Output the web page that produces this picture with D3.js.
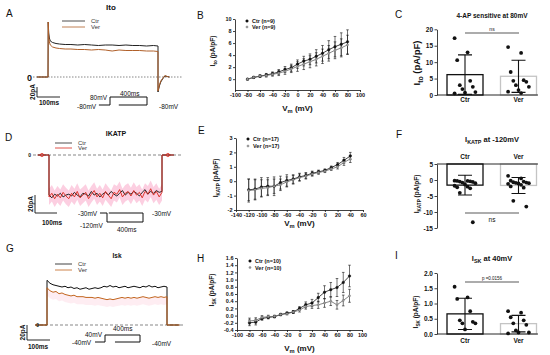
<!DOCTYPE html>
<html><head><meta charset="utf-8">
<script src="https://cdn.jsdelivr.net/npm/d3@7"></script>
<style>body{margin:0;background:#fff} text{font-family:"Liberation Sans",Arial,sans-serif}</style>
</head><body><div id="fig"></div>
<script>
// ---------- data ----------
// A: Ito current traces (ms, pA)
var tA = [0,1,3,6,10,20,35,50,75,100,130,160,190,220,250,280,310,340,370,400,430,460,480];
var itoCtr = [0,110,88,78,72,69,67,66,65,65,64,65,64,63,64,64,63,64,63,63,62,63,62];
var itoVer = [0,110,82,70,64,60,58,57,56,56,55,55,54,55,54,52,54,53,53,53,52,52,51];
var tTail = [480,482,486,492,500,510,520,530];
var tailCtr = [-30,-26,-18,-10,-4,2,1,0];
var tailVer = [-28,-24,-16,-8,-3,3,1,0];
// D: IKATP traces, one sample every 12 ms during the step (pA)
var katpCtr = [-44,-47,-43,-45,-42,-46,-44,-43,-45,-41,-44,-46,-42,-43,-45,-40,-44,-42,-46,-43,-41,-44,-40,-43,-45,-42,-39,-44,-41,-43,-40,-42,-45,-41,-38,-43,-40,-42,-39,-41,-40];
var katpVer = [-46,-42,-48,-43,-47,-41,-45,-48,-42,-46,-40,-47,-44,-41,-48,-43,-39,-46,-42,-47,-40,-44,-48,-41,-43,-38,-46,-42,-40,-45,-39,-44,-41,-47,-40,-43,-37,-44,-40,-46,-41];
// G: ISK traces, one sample every 12 ms (pA)
var skCtr = [60,56,54,53,52,51,52,50,51,49,50,48,49,50,48,49,50,49,50,52,51,53,51,52,50,51,52,50,51,52,51,50,52,51,53,51,52,50,51,52,51];
var skVer = [50,46,44,45,42,43,41,40,39,40,38,38,38,37,37,37,36,37,36,35,34,35,34,35,36,37,36,37,36,37,36,37,38,37,36,37,38,37,38,37,38];
// voltage protocols [holding, step] (mV)
var protoA = [-80, 80];
var protoD = [-30, -120];
var protoG = [-40, 40];

// B: Ito I-V
var vmB = [-80,-70,-60,-50,-40,-30,-20,-10,0,10,20,30,40,50,60,70,80];
var ivBCtr = [0,0.3,0.5,0.7,0.9,1.2,1.6,1.9,2.5,3.0,3.3,3.8,4.3,4.9,5.4,5.8,6.2];
var ivBCtrErr = [0.1,0.15,0.2,0.25,0.3,0.4,0.5,0.6,0.7,0.8,0.9,1.1,1.3,1.5,1.7,1.9,2.0];
var ivBVer = [0,0.3,0.5,0.6,0.8,1.0,1.3,1.7,2.1,2.5,2.9,3.3,3.8,4.3,4.8,5.2,5.7];
var ivBVerErr = [0.1,0.15,0.2,0.25,0.3,0.4,0.5,0.6,0.8,0.9,1.0,1.1,1.2,1.3,1.4,1.5,1.6];
// E: IKATP I-V
var vmE = [-120,-110,-100,-90,-80,-70,-60,-50,-40,-30,-20,-10,0,10,20,30,40];
var ivECtr = [-0.6,-0.55,-0.4,-0.35,-0.35,-0.1,0.05,0.15,0.3,0.4,0.55,0.65,0.75,0.95,1.15,1.45,1.75];
var ivECtrErr = [0.75,0.7,0.65,0.6,0.65,0.45,0.4,0.3,0.25,0.2,0.15,0.12,0.1,0.1,0.15,0.2,0.25];
var ivEVer = [-0.65,-0.6,-0.5,-0.45,-0.35,-0.25,-0.05,0.1,0.25,0.35,0.5,0.6,0.7,0.85,1.0,1.3,1.55];
var ivEVerErr = [0.8,0.7,0.6,0.55,0.5,0.4,0.35,0.3,0.25,0.2,0.15,0.12,0.1,0.1,0.15,0.2,0.25];
// H: ISK I-V
var vmH = [-80,-70,-60,-50,-40,-30,-20,-10,0,10,20,30,40,50,60,70,80];
var ivHCtr = [-0.2,-0.18,-0.08,-0.05,-0.03,0.03,0.07,0.1,0.2,0.3,0.35,0.5,0.65,0.72,0.78,0.92,1.1];
var ivHCtrErr = [0.08,0.08,0.05,0.04,0.03,0.03,0.03,0.04,0.05,0.08,0.1,0.12,0.18,0.2,0.25,0.28,0.3];
var ivHVer = [-0.15,-0.13,-0.05,-0.03,-0.02,0.03,0.05,0.1,0.15,0.25,0.28,0.3,0.35,0.4,0.3,0.42,0.55];
var ivHVerErr = [0.08,0.07,0.05,0.04,0.03,0.03,0.03,0.04,0.05,0.07,0.08,0.1,0.12,0.12,0.12,0.15,0.18];

// bar panels
var groups = ["Ctr", "Ver"];
var cMean = [6.2, 5.7], cSD = [6.0, 4.9];
var cCtrPts = [17.3,13.0,10.6,4.3,3.0,2.5,1.8,0.9,0.7,0.5];
var cVerPts = [14.6,12.8,7.0,4.5,4.3,4.0,3.0,2.5,1.5,1.0,0.6];
var fMean = [-1.6, -1.7], fSD = [3.1, 2.5];
var fCtrPts = [-0.2,-0.3,-0.3,-0.4,-0.5,-0.6,-0.8,-1.0,-1.4,-1.8,-2.1,-2.3,-2.6,-4.0,-13.2];
var fVerPts = [1.3,0.5,-0.2,-0.5,-0.7,-0.8,-0.9,-1.0,-1.1,-1.2,-1.5,-2.0,-2.4,-6.5,-8.3];
var iMean = [0.66, 0.34], iSD = [0.51, 0.27];
var iCtrPts = [1.55,1.2,1.15,0.75,0.45,0.4,0.35,0.35,0.15];
var iVerPts = [0.75,0.7,0.55,0.45,0.35,0.3,0.12,0.05,0.05,0.02];

// ---------- drawing ----------
var svg = d3.select("#fig").append("svg").attr("width", 550).attr("height", 355);
svg.append("rect").attr("width", 550).attr("height", 355).attr("fill", "#fff");
var INK = "#111", VER = "#b0602a";

function txt(x, y, s, size, opt) {
  opt = opt || {};
  return svg.append("text").attr("x", x).attr("y", y).attr("font-size", size)
    .attr("font-weight", opt.bold ? "bold" : "normal")
    .attr("text-anchor", opt.anchor || "start").attr("fill", opt.fill || INK).text(s);
}
// text with subscripts, parts = [[str, isSub], ...]
function rich(x, y, parts, size, rot) {
  var t = svg.append("text").attr("font-size", size).attr("font-weight", "bold")
    .attr("text-anchor", "middle").attr("fill", INK)
    .attr("transform", "translate(" + x + "," + y + ")" + (rot ? " rotate(-90)" : ""));
  var shift = 0;
  parts.forEach(function(p) {
    var d = p[1] ? size * 0.3 : 0;
    t.append("tspan").attr("dy", d - shift).attr("font-size", p[1] ? size * 0.72 : size).text(p[0]);
    shift = d;
  });
}
function styleAxis(g, size) {
  g.attr("font-family", null).attr("font-size", null);
  g.selectAll("text").attr("font-size", size).attr("font-weight", "bold").attr("fill", INK);
  g.select(".domain").attr("stroke", INK).attr("stroke-width", 0.8);
  g.selectAll(".tick line").attr("stroke", INK).attr("stroke-width", 0.8);
}

// panel letters
[["A",6,17],["B",197,19],["C",395,18],["D",5,141],["E",198,134],["F",396,138],["G",6,252],["H",197,262],["I",395,259]]
  .forEach(function(l) { txt(l[1], l[2], l[0], 10); });

// ----- current traces -----
function traces(o) {
  var x = d3.scaleLinear().domain([0, 480]).range(o.xr);
  var y = d3.scaleLinear().domain([0, o.ref]).range(o.yr);
  var line = d3.line().x(function(d) { return x(d[0]); }).y(function(d) { return y(d[1]); });
  svg.append("line").attr("x1", o.dash[0]).attr("x2", o.dash[1]).attr("y1", y(0)).attr("y2", y(0))
    .attr("stroke", "#555").attr("stroke-width", 0.7).attr("stroke-dasharray", o.dashArr);
  if (o.band) {
    svg.append("path").datum(o.band.pts)
      .attr("d", d3.area().x(function(d) { return x(d[0]); })
        .y0(function(d) { return y(d[1] - o.band.w); }).y1(function(d) { return y(d[1] + o.band.w2); }))
      .attr("fill", o.band.fill).attr("opacity", o.band.op);
  }
  o.series.forEach(function(s) {
    svg.append("path").datum(s.pts).attr("d", line).attr("fill", "none")
      .attr("stroke", s.color).attr("stroke-width", s.w || 1).attr("stroke-linejoin", "round");
  });
  // legend
  o.series.forEach(function(s, i) {
    var ly = o.leg[1] + i * o.leg[2];
    svg.append("line").attr("x1", o.leg[0]).attr("x2", o.leg[0] + o.leg[3]).attr("y1", ly).attr("y2", ly)
      .attr("stroke", s.color).attr("stroke-width", 0.8);
    txt(o.leg[0] + o.leg[3] + 6, ly + 2, s.name, o.leg[4], {fill: "#333"});
  });
  // scale bar
  var sb = o.bar;
  svg.append("path").attr("d", "M" + sb[0] + "," + sb[1] + "V" + sb[2] + "H" + sb[3])
    .attr("fill", "none").attr("stroke", INK).attr("stroke-width", 0.9);
  svg.append("text").attr("transform", "translate(" + (sb[0] - 2) + "," + ((sb[1] + sb[2]) / 2) + ") rotate(-90)")
    .attr("text-anchor", "middle").attr("font-size", 6.5).attr("font-weight", "bold").attr("fill", INK).text("20pA");
  txt(sb[4], sb[5], "100ms", 6.5, {bold: true});
  return {x: x, y: y};
}
function build(times, vals) { return times.map(function(t, i) { return [t, vals[i]]; }); }
function sampled(vals) { return vals.map(function(v, i) { return [i * 12, v]; }); }

// A
var aCtr = [[-48, 0]].concat(build(tA, itoCtr), build(tTail, tailCtr));
var aVer = [[-48, 0]].concat(build(tA, itoVer), build(tTail, tailVer));
traces({xr: [48, 158], ref: 110, yr: [77, 22], dash: [33, 183], dashArr: "1.5,1.5",
  series: [{name: "Ctr", color: "#222", pts: aCtr}, {name: "Ver", color: VER, pts: aVer}],
  leg: [62, 21, 6, 23, 6], bar: [37, 87, 97, 60, 39, 105]});
txt(111, 9.5, "Ito", 8, {bold: true, anchor: "middle"});
txt(32, 80.5, "0", 9, {bold: true, anchor: "end"});

// D
var dCtr = [[-48, 0], [0, 0]].concat(sampled(katpCtr), [[480, 0], [530, 0]]);
var dVer = [[-48, 0], [0, 0]].concat(sampled(katpVer), [[480, 0], [530, 0]]);
var dT = traces({xr: [49, 162], ref: -45, yr: [155, 196], dash: [33, 183], dashArr: "3,2",
  band: {pts: sampled(katpVer), w: 9, w2: 9, fill: "#f9a8c9", op: 0.55},
  series: [{name: "Ctr", color: "#222", pts: dCtr}, {name: "Ver", color: "#d8261c", pts: dVer, w: 0.9}],
  leg: [55, 143, 5, 17, 6], bar: [35, 195, 213, 57, 42, 224.5]});
[-30, 505].forEach(function(t) {
  svg.append("circle").attr("cx", dT.x(t)).attr("cy", dT.y(0)).attr("r", 1.6)
    .attr("fill", "none").attr("stroke", "#d8261c").attr("stroke-width", 0.8);
});
txt(116, 136, "IKATP", 7, {bold: true, anchor: "middle"});
txt(31, 157, "0", 5, {bold: true, anchor: "end"});

// G
var gCtr = [[-48, 0], [0, 0]].concat(sampled(skCtr), [[480, 0], [530, 0]]);
var gVer = [[-48, 0], [0, 0]].concat(sampled(skVer), [[480, 0], [530, 0]]);
traces({xr: [47, 167], ref: 51, yr: [325, 287], dash: [40, 183], dashArr: "3,2",
  band: {pts: sampled(skVer), w: 10, w2: 0, fill: "#fde6ec", op: 0.7},
  series: [{name: "Ctr", color: "#111", pts: gCtr}, {name: "Ver", color: "#c2651e", pts: gVer}],
  leg: [55, 264, 6, 17, 6], bar: [27, 325, 340, 50, 28, 349]});
txt(117, 258, "Isk", 6.5, {bold: true, anchor: "middle"});
txt(39, 327, "0", 5, {bold: true, anchor: "end"});

// ----- voltage protocols -----
function protocol(v, xs, ys) {
  var x = d3.scaleLinear().domain([0, 400]).range([xs[0], xs[1]]);
  var y = d3.scaleLinear().domain(v).range(ys);
  var pts = [[xs[2], v[0]], [0, v[0]], [0, v[1]], [400, v[1]], [400, v[0]], [xs[3], v[0]]];
  svg.append("path").datum(pts)
    .attr("d", d3.line().x(function(d) { return x(d[0]); }).y(function(d) { return y(d[1]); }))
    .attr("fill", "none").attr("stroke", INK).attr("stroke-width", 1);
}
protocol(protoA, [110, 147, -120, 95], [105, 97]);
txt(77, 109, "-80mV", 6.5); txt(90, 99.5, "80mV", 6.5); txt(120, 96, "400ms", 6.5); txt(159, 109, "-80mV", 6.5);
protocol(protoD, [107, 143, -78, 20], [213, 222]);
txt(78, 216, "-30mV", 6.5); txt(80, 228, "-120mV", 6.5); txt(117, 232, "400ms", 6.5); txt(152, 216, "-30mV", 6.5);
protocol(protoG, [105, 140, -114, 114], [342, 335]);
txt(72, 345, "-40mV", 6.5); txt(85, 336.5, "40mV", 6.5); txt(113, 331, "400ms", 6.5); txt(152, 346, "-40mV", 6.5);

// ----- I-V plots -----
function ivPlot(o) {
  var x = d3.scaleLinear().domain(o.xd).range(o.xr);
  var y = d3.scaleLinear().domain(o.yd).range(o.yr);
  var gx = svg.append("g").attr("transform", "translate(0," + o.yr[0] + ")")
    .call(d3.axisBottom(x).tickValues(o.xt).tickSize(2).tickSizeOuter(0).tickPadding(1.5).tickFormat(String));
  styleAxis(gx, 5.5);
  var gy = svg.append("g").attr("transform", "translate(" + o.xr[0] + ",0)")
    .call(d3.axisLeft(y).tickValues(o.yt).tickSize(2).tickSizeOuter(0).tickPadding(1.5).tickFormat(o.yf));
  styleAxis(gy, 5.5);
  o.series.forEach(function(s) {
    var g = svg.append("g");
    g.append("path").datum(s.v).attr("fill", "none").attr("stroke", s.line).attr("stroke-width", 0.8)
      .attr("d", d3.line().x(function(d, i) { return x(o.vm[i]); }).y(function(d) { return y(d); }));
    s.v.forEach(function(d, i) {
      var cx = x(o.vm[i]), lo = y(d - s.e[i]), hi = y(d + s.e[i]);
      g.append("path").attr("d", "M" + cx + "," + lo + "V" + hi + "M" + (cx - 1.3) + "," + lo + "h2.6M" + (cx - 1.3) + "," + hi + "h2.6")
        .attr("stroke", INK).attr("stroke-width", 0.6);
    });
    g.selectAll("circle").data(s.v).enter().append("circle")
      .attr("cx", function(d, i) { return x(o.vm[i]); }).attr("cy", function(d) { return y(d); })
      .attr("r", s.r).attr("fill", s.fill).attr("stroke", s.stroke).attr("stroke-width", 0.4);
  });
  o.series.forEach(function(s, i) {
    var ly = o.leg[1] + i * o.leg[2];
    svg.append("circle").attr("cx", o.leg[0]).attr("cy", ly).attr("r", s.r)
      .attr("fill", s.fill).attr("stroke", s.stroke).attr("stroke-width", 0.4);
    txt(o.leg[0] + 5, ly + 2, s.name, 5.5, {bold: true});
  });
  rich((o.xr[0] + o.xr[1]) / 2, o.xlab, [["V", 0], ["m", 1], [" (mV)", 0]], 8, false);
  rich(o.ylab[0], o.ylab[1], o.ylabParts, 6.5, true);
}
var ctrStyle = {fill: INK, stroke: INK, line: INK, r: 1.3};
var verStyle = {fill: "#9a9a9a", stroke: "#777", line: "#666", r: 1.1};
function ser(st, name, v, e) { return Object.assign({}, st, {name: name, v: v, e: e}); }

ivPlot({xd: [-100, 100], xr: [235, 360], yd: [-1.8, 10], yr: [90, 19],
  xt: [-100,-80,-60,-40,-20,0,20,40,60,80,100], yt: [0,2,4,6,8,10], yf: String, vm: vmB,
  series: [ser(ctrStyle, "Ctr (n=9)", ivBCtr, ivBCtrErr), ser(verStyle, "Ver (n=9)", ivBVer, ivBVerErr)],
  leg: [247, 21, 6], xlab: 111, ylab: [215, 51], ylabParts: [["I", 0], ["to", 1], [" (pA/pF)", 0]]});
ivPlot({xd: [-140, 60], xr: [236, 363], yd: [-2, 3], yr: [210, 138],
  xt: [-140,-120,-100,-80,-60,-40,-20,0,20,40,60], yt: [-2,-1,0,1,2,3], yf: String, vm: vmE,
  series: [ser(ctrStyle, "Ctr (n=17)", ivECtr, ivECtrErr), ser(verStyle, "Ver (n=17)", ivEVer, ivEVerErr)],
  leg: [248, 139, 7], xlab: 226, ylab: [218, 178], ylabParts: [["I", 0], ["KATP", 1], [" (pA/pF)", 0]]});
ivPlot({xd: [-100, 100], xr: [237, 362], yd: [-0.4, 1.6], yr: [330, 258],
  xt: [-100,-80,-60,-40,-20,0,20,40,60,80,100], yt: [-0.4,-0.2,0,0.2,0.4,0.6,0.8,1.0,1.2,1.4,1.6],
  yf: function(d) { return d.toFixed(1); }, vm: vmH,
  series: [ser(ctrStyle, "Ctr (n=10)", ivHCtr, ivHCtrErr), ser(verStyle, "Ver (n=10)", ivHVer, ivHVerErr)],
  leg: [250, 261, 6.5], xlab: 351, ylab: [214, 290], ylabParts: [["I", 0], ["SK", 1], [" (pA/pF)", 0]]});

// ----- bar panels -----
function barPlot(o) {
  var x = d3.scalePoint().domain(groups).range([465, 518.5]);
  var y = d3.scaleLinear().domain(o.yd).range(o.yr);
  var gy = svg.append("g").attr("transform", "translate(437,0)")
    .call(d3.axisLeft(y).tickValues(o.yt).tickSize(2.5).tickSizeOuter(0).tickPadding(1.5).tickFormat(o.yf));
  styleAxis(gy, 6.5);
  var bw = 36;
  groups.forEach(function(gname, i) {
    var top = Math.min(y(o.base), y(o.mean[i])), h = Math.abs(y(o.base) - y(o.mean[i]));
    svg.append("rect").attr("x", x(gname) - bw / 2).attr("y", top).attr("width", bw).attr("height", h)
      .attr("fill", "#fff").attr("stroke", i ? "#c4c4c4" : INK).attr("stroke-width", 1.3);
  });
  svg.append("line").attr("x1", 437).attr("x2", 538).attr("y1", y(o.base)).attr("y2", y(o.base))
    .attr("stroke", INK).attr("stroke-width", 0.9);
  [o.ctr, o.ver].forEach(function(pts, gi) {
    var cx = x(groups[gi]);
    pts.forEach(function(v, i) {
      svg.append("circle").attr("cx", cx + ((i * 5) % 9 - 4) * 2.6).attr("cy", y(v)).attr("r", 1.9).attr("fill", INK);
    });
    var lo = y(o.mean[gi] - o.sd[gi]), hi = y(o.mean[gi] + o.sd[gi]);
    svg.append("path").attr("d", "M" + cx + "," + lo + "V" + hi + "M" + (cx - 7) + "," + lo + "h14M" + (cx - 7) + "," + hi + "h14")
      .attr("stroke", INK).attr("stroke-width", 1.1).attr("fill", "none");
    txt(cx, o.catY, groups[gi], 6.5, {bold: true, anchor: "middle"});
  });
  svg.append("line").attr("x1", 465).attr("x2", 519).attr("y1", o.sig[0]).attr("y2", o.sig[0])
    .attr("stroke", INK).attr("stroke-width", 0.7);
  txt(492, o.sig[1], o.sig[2], o.sig[3], {anchor: "middle"});
  rich(492, o.titleY, o.title, o.titleSize, false);
  rich(o.ylab[0], o.ylab[1], o.ylabParts, o.ylab[2], true);
}
barPlot({yd: [0, 20], yr: [95, 29.3], yt: [0,5,10,15,20], yf: String, base: 0, mean: cMean, sd: cSD,
  ctr: cCtrPts, ver: cVerPts, catY: 102, sig: [33, 31, "ns", 5],
  title: [["4-AP sensitive at 80mV", 0]], titleY: 17.5, titleSize: 6.5,
  ylab: [420, 63, 9.5], ylabParts: [["I", 0], ["to", 1], [" (pA/pF)", 0]]});
barPlot({yd: [-15, 5], yr: [228, 164], yt: [5,0,-5,-10,-15], yf: String, base: 5, mean: fMean, sd: fSD,
  ctr: fCtrPts, ver: fVerPts, catY: 159, sig: [213, 222, "ns", 6.5],
  title: [["I", 0], ["KATP", 1], [" at -120mV", 0]], titleY: 142, titleSize: 7.5,
  ylab: [419, 194, 6.5], ylabParts: [["I", 0], ["KATP", 1], [" (pA/pF)", 0]]});
barPlot({yd: [0, 2], yr: [334, 273], yt: [0,0.5,1,1.5,2], yf: function(d) { return d.toFixed(1); },
  base: 0, mean: iMean, sd: iSD, ctr: iCtrPts, ver: iVerPts, catY: 343, sig: [282, 279.5, "p =0.0156", 4.5],
  title: [["I", 0], ["SK", 1], [" at 40mV", 0]], titleY: 261, titleSize: 7.5,
  ylab: [418, 312, 6.5], ylabParts: [["I", 0], ["SK", 1], [" (pA/pF)", 0]]});
</script>
</body></html>
